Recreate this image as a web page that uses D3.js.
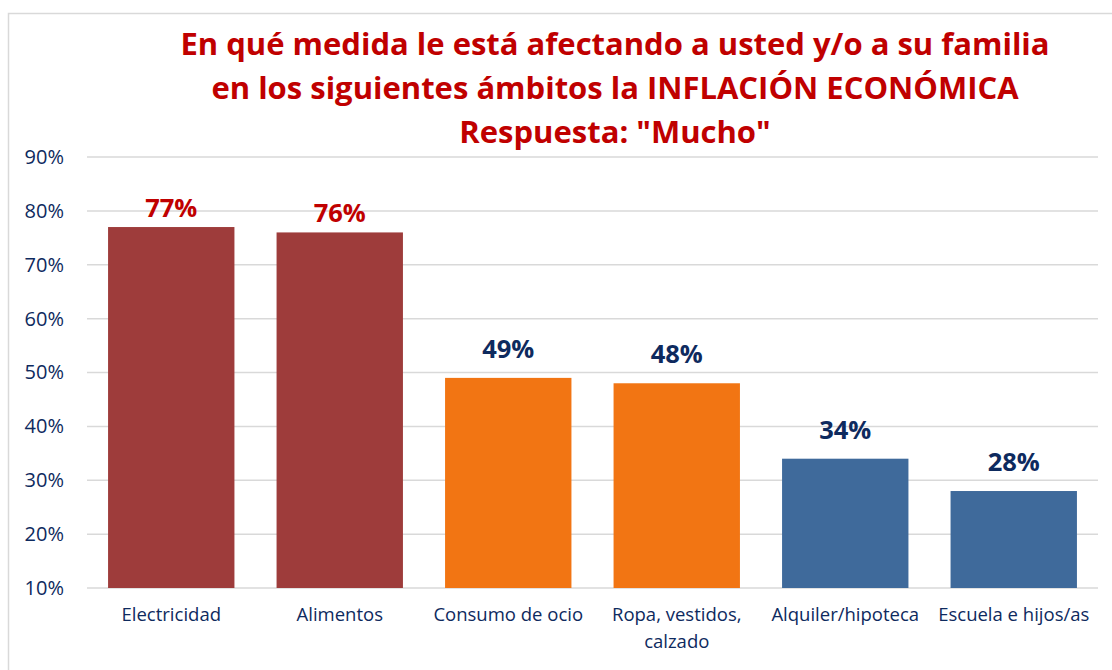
<!DOCTYPE html>
<html>
<head>
<meta charset="utf-8">
<script src="https://cdn.jsdelivr.net/npm/d3@7"></script>
<style>
  body { margin: 0; background: #fff; }
  svg { display: block; font-family: "Open Sans", Lato, sans-serif; }
</style>
</head>
<body>
<div id="chart"></div>
<script>
"use strict";

// data
var categories = ["Electricidad", "Alimentos", "Consumo de ocio", "Ropa, vestidos, calzado", "Alquiler/hipoteca", "Escuela e hijos/as"];
var values = [77, 76, 49, 48, 34, 28];
var groups = ["alto", "alto", "medio", "medio", "bajo", "bajo"];
var yTicks = [10, 20, 30, 40, 50, 60, 70, 80, 90];
var titleLines = ["En qué medida le está afectando a usted y/o a su familia",
                  "en los siguientes ámbitos la INFLACIÓN ECONÓMICA",
                  "Respuesta: \"Mucho\""];

var w = 1112, h = 670;
var margin = {top: 157, right: 14, bottom: 82, left: 87};

var barColor = {alto: "#9E3C3B", medio: "#F27513", bajo: "#3F6A9B"};
var labelColor = {alto: "#C00000", medio: "#0E2A5E", bajo: "#0E2A5E"};
var labelGap = {alto: 10, medio: 20, bajo: 20};

var svg = d3.select("#chart")
            .append("svg")
            .attr("width", w)
            .attr("height", h);

// outer frame
svg.append("rect")
  .attr("x", 8.5).attr("y", 13.5)
  .attr("width", w + 20).attr("height", h + 20)
  .attr("fill", "none")
  .attr("stroke", "#d9d9d9")
  .attr("stroke-width", 1.5);

var x = d3.scaleBand()
  .domain(categories)
  .range([margin.left, w - margin.right])
  .paddingInner(0.25)
  .paddingOuter(0.125);

var y = d3.scaleLinear()
  .domain([10, 90])
  .range([h - margin.bottom, margin.top]);

// grid
svg.append("g")
  .selectAll("line")
  .data(yTicks)
  .enter()
  .append("line")
    .attr("x1", margin.left)
    .attr("x2", w - margin.right)
    .attr("y1", function(d) { return y(d); })
    .attr("y2", function(d) { return y(d); })
    .attr("stroke", "#d9d9d9")
    .attr("stroke-width", 1.5);

// y axis labels
var yAxis = d3.axisLeft(y)
  .tickValues(yTicks)
  .tickFormat(function(d) { return d + "%"; })
  .tickSize(0)
  .tickPadding(23);

var gy = svg.append("g")
  .attr("transform", "translate(" + margin.left + ",0)")
  .call(yAxis);
gy.select(".domain").remove();
gy.selectAll("text")
  .attr("fill", "#0E2A5E")
  .attr("font-size", 20)
  .attr("font-family", "'Open Sans', sans-serif");

// bars
svg.selectAll("rect.bar")
  .data(values)
  .enter()
  .append("rect")
    .attr("class", "bar")
    .attr("x", function(d, i) { return x(categories[i]); })
    .attr("y", function(d) { return y(d); })
    .attr("width", x.bandwidth())
    .attr("height", function(d) { return y(10) - y(d); })
    .attr("fill", function(d, i) { return barColor[groups[i]]; });

// value labels
svg.selectAll("text.val")
  .data(values)
  .enter()
  .append("text")
    .attr("class", "val")
    .text(function(d) { return d + "%"; })
    .attr("text-anchor", "middle")
    .attr("x", function(d, i) { return x(categories[i]) + x.bandwidth() / 2; })
    .attr("y", function(d, i) { return y(d) - labelGap[groups[i]]; })
    .attr("font-size", 25.5)
    .attr("font-weight", "bold")
    .attr("fill", function(d, i) { return labelColor[groups[i]]; });

// category labels (wrapped like the original)
var catLines = {"Ropa, vestidos, calzado": ["Ropa, vestidos,", "calzado"]};
var gx = svg.append("g");
categories.forEach(function(c) {
  var lines = catLines[c] || [c];
  var t = gx.append("text")
    .attr("text-anchor", "middle")
    .attr("x", x(c) + x.bandwidth() / 2)
    .attr("y", h - margin.bottom + 33)
    .attr("font-size", 18.5)
    .attr("fill", "#0E2A5E");
  lines.forEach(function(l, k) {
    t.append("tspan")
      .attr("x", x(c) + x.bandwidth() / 2)
      .attr("dy", k === 0 ? 0 : 27)
      .text(l);
  });
});

// title
svg.selectAll("text.title")
  .data(titleLines)
  .enter()
  .append("text")
    .attr("class", "title")
    .text(function(d) { return d; })
    .attr("text-anchor", "middle")
    .attr("x", 615)
    .attr("y", function(d, i) { return 55 + i * 44; })
    .attr("font-size", 31)
    .attr("font-weight", "bold")
    .attr("fill", "#C00000");
</script>
</body>
</html>
